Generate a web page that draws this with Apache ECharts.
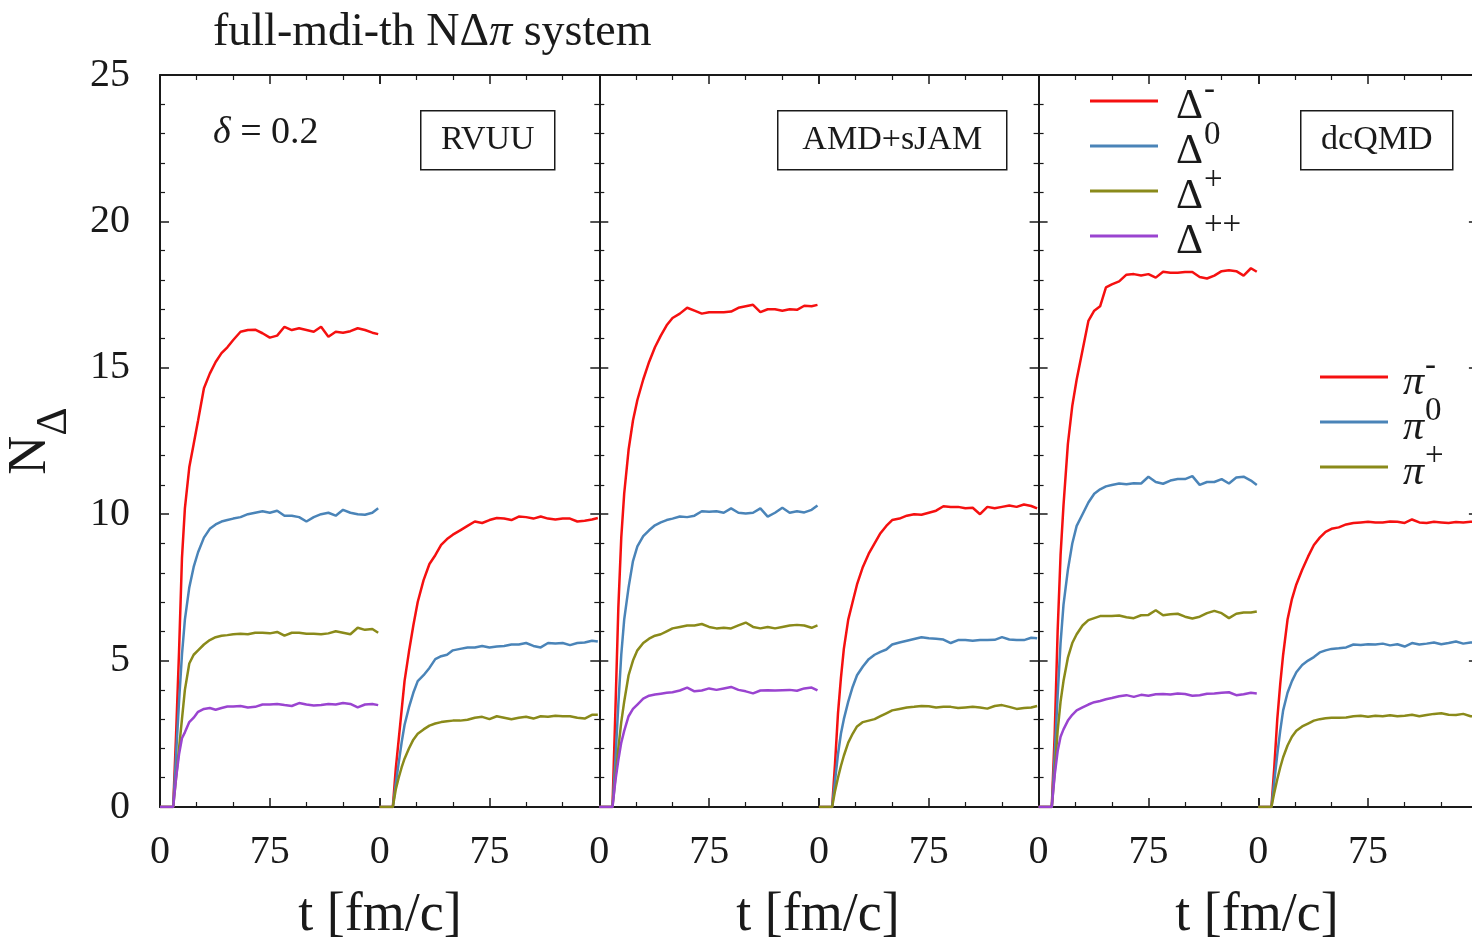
<!DOCTYPE html>
<html>
<head>
<meta charset="utf-8">
<script src="https://cdn.jsdelivr.net/npm/echarts@6/dist/echarts.min.js"></script>
<style>
html,body{margin:0;padding:0;background:#fff;}
#chart{width:1472px;height:947px;}
</style>
</head>
<body>
<div id="chart"></div>
<script>
// ---------------- data ----------------
const time = [0, 9, 11, 13, 15, 17, 20, 23, 26, 30, 34, 38, 42, 46, 50, 55, 60, 65, 70, 75, 80, 85, 90, 95, 100, 105, 110, 115, 120, 125, 130, 135, 140, 145, 149];
const models = ['RVUU', 'AMD+sJAM', 'dcQMD'];
const deltaNames = ['Δ-', 'Δ0', 'Δ+', 'Δ++'];
const pionNames = ['π-', 'π0', 'π+'];
const xTicks = [0, 75];
const yTicks = [0, 5, 10, 15, 20, 25];

// RVUU
const rvuuDeltaMinus = [0,0,2.5,5.3,8.5,10.2,11.6,12.4,13.2,14.3,14.8,15.2,15.5,15.7,15.95,16.23,16.29,16.3,16.18,16.03,16.1,16.4,16.29,16.35,16.29,16.23,16.4,16.06,16.23,16.2,16.25,16.35,16.29,16.2,16.15];
const rvuuDelta0 = [0,0,1.8,3.6,5.2,6.4,7.5,8.2,8.7,9.2,9.5,9.65,9.75,9.8,9.85,9.9,10.0,10.05,10.1,10.05,10.12,9.95,9.95,9.9,9.75,9.9,10.0,10.05,9.95,10.15,10.05,10.0,9.98,10.05,10.2];
const rvuuDeltaPlus = [0,0,1.0,2.0,3.0,4.0,4.9,5.2,5.35,5.55,5.7,5.8,5.85,5.87,5.9,5.92,5.9,5.95,5.95,5.93,5.98,5.85,5.95,5.95,5.92,5.92,5.9,5.93,6.0,5.95,5.9,6.12,6.05,6.08,5.95];
const rvuuDeltaPP = [0,0,1.0,1.8,2.35,2.55,2.9,3.05,3.25,3.35,3.38,3.32,3.38,3.43,3.43,3.45,3.4,3.42,3.5,3.5,3.52,3.48,3.45,3.55,3.5,3.47,3.48,3.52,3.5,3.55,3.52,3.4,3.5,3.52,3.48];
const rvuuPiMinus = [0,0,1.3,2.3,3.3,4.3,5.3,6.2,7.0,7.75,8.3,8.6,8.95,9.15,9.3,9.45,9.6,9.75,9.7,9.8,9.87,9.85,9.8,9.92,9.9,9.85,9.92,9.85,9.82,9.85,9.85,9.75,9.78,9.82,9.87];
const rvuuPi0 = [0,0,0.8,1.5,2.2,2.8,3.4,3.9,4.3,4.5,4.75,5.05,5.15,5.2,5.35,5.4,5.45,5.45,5.5,5.45,5.48,5.5,5.55,5.55,5.6,5.5,5.45,5.6,5.58,5.6,5.53,5.6,5.62,5.68,5.65];
const rvuuPiPlus = [0,0,0.6,1.0,1.35,1.65,2.0,2.3,2.5,2.65,2.78,2.85,2.9,2.93,2.95,2.95,2.98,3.05,3.08,3.0,3.1,3.05,3.0,3.05,3.08,3.02,3.1,3.08,3.12,3.1,3.1,3.05,3.02,3.15,3.15];

// AMD+sJAM
const amdDeltaMinus = [0,0,3.3,6.8,9.2,10.7,12.2,13.2,13.9,14.6,15.2,15.7,16.1,16.45,16.7,16.85,17.05,16.95,16.85,16.9,16.9,16.9,16.92,17.05,17.1,17.15,16.9,17.0,17.0,16.95,17.0,16.98,17.12,17.1,17.15];
const amdDelta0 = [0,0,1.6,3.5,5.2,6.4,7.5,8.4,8.9,9.25,9.45,9.62,9.72,9.8,9.85,9.92,9.9,9.95,10.1,10.08,10.1,10.05,10.2,10.05,10.02,10.05,10.2,9.92,10.05,10.22,10.05,10.1,10.06,10.15,10.3];
const amdDeltaPlus = [0,0,1.0,2.0,2.9,3.6,4.5,5.0,5.35,5.6,5.75,5.85,5.9,6.0,6.1,6.15,6.2,6.2,6.25,6.15,6.1,6.12,6.1,6.2,6.3,6.15,6.1,6.15,6.1,6.15,6.2,6.22,6.2,6.12,6.2];
const amdDeltaPP = [0,0,0.9,1.6,2.2,2.6,3.1,3.35,3.5,3.7,3.8,3.84,3.87,3.9,3.92,3.98,4.08,3.95,3.98,4.05,4.0,4.05,4.1,4.0,3.95,3.88,3.98,3.99,3.98,3.99,4.0,3.97,4.05,4.08,3.98];
const amdPiMinus = [0,0,1.5,3.2,4.4,5.4,6.4,7.0,7.6,8.2,8.65,9.0,9.35,9.6,9.8,9.85,9.95,10.0,9.98,10.05,10.12,10.27,10.25,10.25,10.2,10.22,10.0,10.25,10.2,10.25,10.3,10.25,10.33,10.28,10.2];
const amdPi0 = [0,0,0.9,1.8,2.5,3.0,3.6,4.1,4.5,4.8,5.05,5.2,5.3,5.38,5.55,5.62,5.68,5.74,5.8,5.76,5.75,5.72,5.6,5.7,5.7,5.68,5.7,5.7,5.71,5.8,5.72,5.7,5.7,5.78,5.76];
const amdPiPlus = [0,0,0.55,1.0,1.4,1.75,2.2,2.5,2.75,2.9,2.95,3.0,3.1,3.2,3.3,3.35,3.4,3.42,3.45,3.44,3.4,3.42,3.42,3.38,3.4,3.42,3.4,3.36,3.45,3.48,3.42,3.35,3.38,3.4,3.45];

// dcQMD
const dcqmdDeltaMinus = [0,0,2.5,6.0,8.6,10.3,12.4,13.7,14.6,15.6,16.6,16.95,17.1,17.75,17.85,17.95,18.18,18.2,18.15,18.2,18.08,18.28,18.25,18.25,18.27,18.27,18.1,18.05,18.15,18.3,18.33,18.3,18.15,18.4,18.28];
const dcqmdDelta0 = [0,0,1.8,3.8,5.6,6.9,8.1,9.0,9.6,10.0,10.4,10.7,10.85,10.95,11.0,11.05,11.02,11.06,11.05,11.28,11.1,11.04,11.15,11.2,11.2,11.3,11.0,11.1,11.1,11.2,11.05,11.25,11.28,11.15,11.0];
const dcqmdDeltaPlus = [0,0,1.2,2.6,3.6,4.3,5.1,5.6,5.9,6.2,6.38,6.45,6.52,6.52,6.52,6.54,6.48,6.45,6.55,6.56,6.72,6.55,6.58,6.6,6.5,6.44,6.5,6.62,6.7,6.62,6.45,6.6,6.64,6.64,6.68];
const dcqmdDeltaPP = [0,0,1.1,1.9,2.4,2.65,2.95,3.15,3.3,3.4,3.5,3.58,3.62,3.68,3.72,3.78,3.82,3.76,3.83,3.8,3.85,3.86,3.84,3.88,3.86,3.8,3.82,3.87,3.88,3.9,3.92,3.82,3.85,3.9,3.88];
const dcqmdPiMinus = [0,0,1.4,3.0,4.2,5.2,6.4,7.1,7.6,8.1,8.55,8.95,9.2,9.4,9.5,9.55,9.65,9.7,9.72,9.74,9.72,9.72,9.75,9.74,9.7,9.82,9.72,9.7,9.74,9.72,9.7,9.73,9.72,9.74,9.75];
const dcqmdPi0 = [0,0,0.9,1.8,2.6,3.3,3.9,4.3,4.6,4.85,5.0,5.12,5.28,5.35,5.4,5.42,5.45,5.55,5.53,5.56,5.55,5.58,5.52,5.56,5.48,5.6,5.55,5.58,5.62,5.56,5.6,5.65,5.58,5.62,5.6];
const dcqmdPiPlus = [0,0,0.5,0.95,1.35,1.7,2.1,2.4,2.6,2.75,2.85,2.95,3.0,3.03,3.05,3.05,3.06,3.1,3.12,3.08,3.12,3.1,3.13,3.1,3.12,3.15,3.1,3.14,3.18,3.2,3.15,3.14,3.18,3.1,3.1];

const deltaData = [
  [rvuuDeltaMinus, rvuuDelta0, rvuuDeltaPlus, rvuuDeltaPP],
  [amdDeltaMinus, amdDelta0, amdDeltaPlus, amdDeltaPP],
  [dcqmdDeltaMinus, dcqmdDelta0, dcqmdDeltaPlus, dcqmdDeltaPP]
];
const pionData = [
  [rvuuPiMinus, rvuuPi0, rvuuPiPlus],
  [amdPiMinus, amdPi0, amdPiPlus],
  [dcqmdPiMinus, dcqmdPi0, dcqmdPiPlus]
];

// ---------------- style ----------------
const FONT = '"Liberation Serif", "DejaVu Serif", serif';
const colors = ['#f51010', '#4a84b8', '#8a8a1a', '#9a44d0'];
const INK = '#1a1a1a';
const PANEL_LEFT = 160, PANEL_W = 439.3, TOP = 75, H = 732;
const HALF = PANEL_W / 2;

const grids = [], xAxes = [], yAxes = [], series = [];
for (let p = 0; p < 3; p++) {
  for (let h = 0; h < 2; h++) {
    grids.push({
      left: PANEL_LEFT + p * PANEL_W + h * HALF, top: TOP, width: HALF, height: H,
      containLabel: false, outerBoundsMode: 'none'
    });
  }
}
const axisCommon = {
  axisLine: { show: true, onZero: false, lineStyle: { color: INK, width: 2 } },
  axisTick: { show: true, inside: true, length: 9, lineStyle: { color: INK, width: 1.5 } },
  minorTick: { show: true, length: 5, lineStyle: { color: INK, width: 1.2 } },
  splitLine: { show: false }
};
for (let g = 0; g < 6; g++) {
  xAxes.push(Object.assign({}, axisCommon, {
    type: 'value', gridIndex: g, position: 'bottom', min: 0, max: 150, interval: 75,
    minorTick: Object.assign({}, axisCommon.minorTick, { splitNumber: 3 }),
    axisLabel: {
      show: true, fontFamily: FONT, fontSize: 40, color: INK, margin: 25,
      showMaxLabel: false,
      formatter: v => (xTicks.indexOf(v) >= 0 ? String(v) : '')
    }
  }));
}
for (let g = 0; g < 6; g++) {
  xAxes.push(Object.assign({}, axisCommon, {
    type: 'value', gridIndex: g, position: 'top', min: 0, max: 150, interval: 75,
    minorTick: Object.assign({}, axisCommon.minorTick, { splitNumber: 3 }),
    axisLabel: { show: false }
  }));
}
for (let g = 0; g < 6; g++) {
  const isLeft = g % 2 === 0;
  const y = Object.assign({}, axisCommon, {
    type: 'value', gridIndex: g, position: isLeft ? 'left' : 'right', min: 0, max: 25, interval: 5,
    minorTick: Object.assign({}, axisCommon.minorTick, { splitNumber: 5 }),
    axisLabel: {
      show: g === 0, fontFamily: FONT, fontSize: 40, color: INK, margin: 30,
      formatter: v => (yTicks.indexOf(v) >= 0 ? String(v) : '')
    }
  });
  if (g === 0) {
    y.name = '{n|N}{s|Δ}';
    y.nameLocation = 'middle';
    y.nameRotate = 90;
    y.nameGap = 84;
    y.nameTextStyle = {
      fontFamily: FONT, color: INK,
      rich: {
        n: { fontFamily: FONT, fontSize: 54, color: INK, verticalAlign: 'top' },
        s: { fontFamily: FONT, fontSize: 44, color: INK, verticalAlign: 'bottom', lineHeight: 72 }
      }
    };
  }
  yAxes.push(y);
}

for (let p = 0; p < 3; p++) {
  deltaData[p].forEach((arr, i) => {
    series.push({
      name: deltaNames[i], type: 'line', xAxisIndex: p * 2, yAxisIndex: p * 2,
      data: time.map((t, k) => [t, arr[k]]),
      showSymbol: false, symbol: 'none', color: colors[i],
      lineStyle: { width: 2.5, color: colors[i] }, z: 3
    });
  });
  pionData[p].forEach((arr, i) => {
    series.push({
      name: pionNames[i], type: 'line', xAxisIndex: p * 2 + 1, yAxisIndex: p * 2 + 1,
      data: time.map((t, k) => [t, arr[k]]),
      showSymbol: false, symbol: 'none', color: colors[i],
      lineStyle: { width: 2.5, color: colors[i] }, z: 3
    });
  });
}

function legendRich(mainStyle) {
  return {
    b: Object.assign({ fontFamily: FONT, fontSize: 42, color: INK, verticalAlign: 'bottom', padding: [0, 0, 0, 13] }, mainStyle || {}),
    s: { fontFamily: FONT, fontSize: 33, color: INK, verticalAlign: 'top', lineHeight: 54, padding: [0, 0, 0, 1] }
  };
}
const legendFormatter = name => '{b|' + name.charAt(0) + '}{s|' + name.slice(1) + '}';

const boxes = [
  { text: models[0], x: 420, y: 110, w: 134, h: 59 },
  { text: models[1], x: 777, y: 110, w: 229, h: 59 },
  { text: models[2], x: 1300, y: 110, w: 152, h: 59 }
];
const graphic = [];
boxes.forEach(b => {
  graphic.push({
    type: 'group', left: b.x, top: b.y, children: [
      { type: 'rect', shape: { x: 0, y: 0, width: b.w, height: b.h }, style: { fill: '#fff', stroke: INK, lineWidth: 1.5 } },
      { type: 'text', x: b.w / 2, y: b.h / 2, style: { text: b.text, font: '34px ' + FONT, fill: INK, textAlign: 'center', textVerticalAlign: 'middle' } }
    ]
  });
});
[380, 818, 1257].forEach(cx => {
  graphic.push({ type: 'text', x: cx, y: 916, style: { text: 't [fm/c]', font: '54px ' + FONT, fill: INK, textAlign: 'center', textVerticalAlign: 'middle' } });
});
graphic.push({
  type: 'text', x: 213, y: 133, style: {
    text: '{i|δ}{a| = 0.2}', textVerticalAlign: 'middle', fill: INK,
    rich: { i: { fontFamily: FONT, fontStyle: 'italic', fontSize: 38, fill: INK }, a: { fontFamily: FONT, fontSize: 38, fill: INK } }
  }
});

const option = {
  animation: false,
  backgroundColor: '#fff',
  textStyle: { fontFamily: FONT },
  title: {
    text: '{a|full-mdi-th NΔ}{i|π}{a| system}', left: 208, top: 5,
    textStyle: {
      fontWeight: 'normal',
      rich: {
        a: { fontFamily: FONT, fontSize: 46, fontWeight: 'normal', color: INK },
        i: { fontFamily: FONT, fontSize: 46, fontWeight: 'normal', fontStyle: 'italic', color: INK }
      }
    }
  },
  legend: [
    {
      data: deltaNames, orient: 'vertical', left: 1090, top: 74, icon: 'rect', itemWidth: 68, itemHeight: 3,
      itemGap: -9, padding: 0, selectedMode: false, formatter: legendFormatter,
      textStyle: { rich: legendRich() }
    },
    {
      data: pionNames, orient: 'vertical', left: 1320, top: 350, icon: 'rect', itemWidth: 68, itemHeight: 3,
      itemGap: -9, padding: 0, selectedMode: false, formatter: legendFormatter,
      textStyle: { rich: legendRich({ fontStyle: 'italic', padding: [0, 0, 0, 10] }) }
    }
  ],
  grid: grids,
  xAxis: xAxes,
  yAxis: yAxes,
  series: series,
  graphic: graphic
};
const chart = echarts.init(document.getElementById('chart'), null, { renderer: 'canvas' });
chart.setOption(option);
</script>
</body>
</html>
